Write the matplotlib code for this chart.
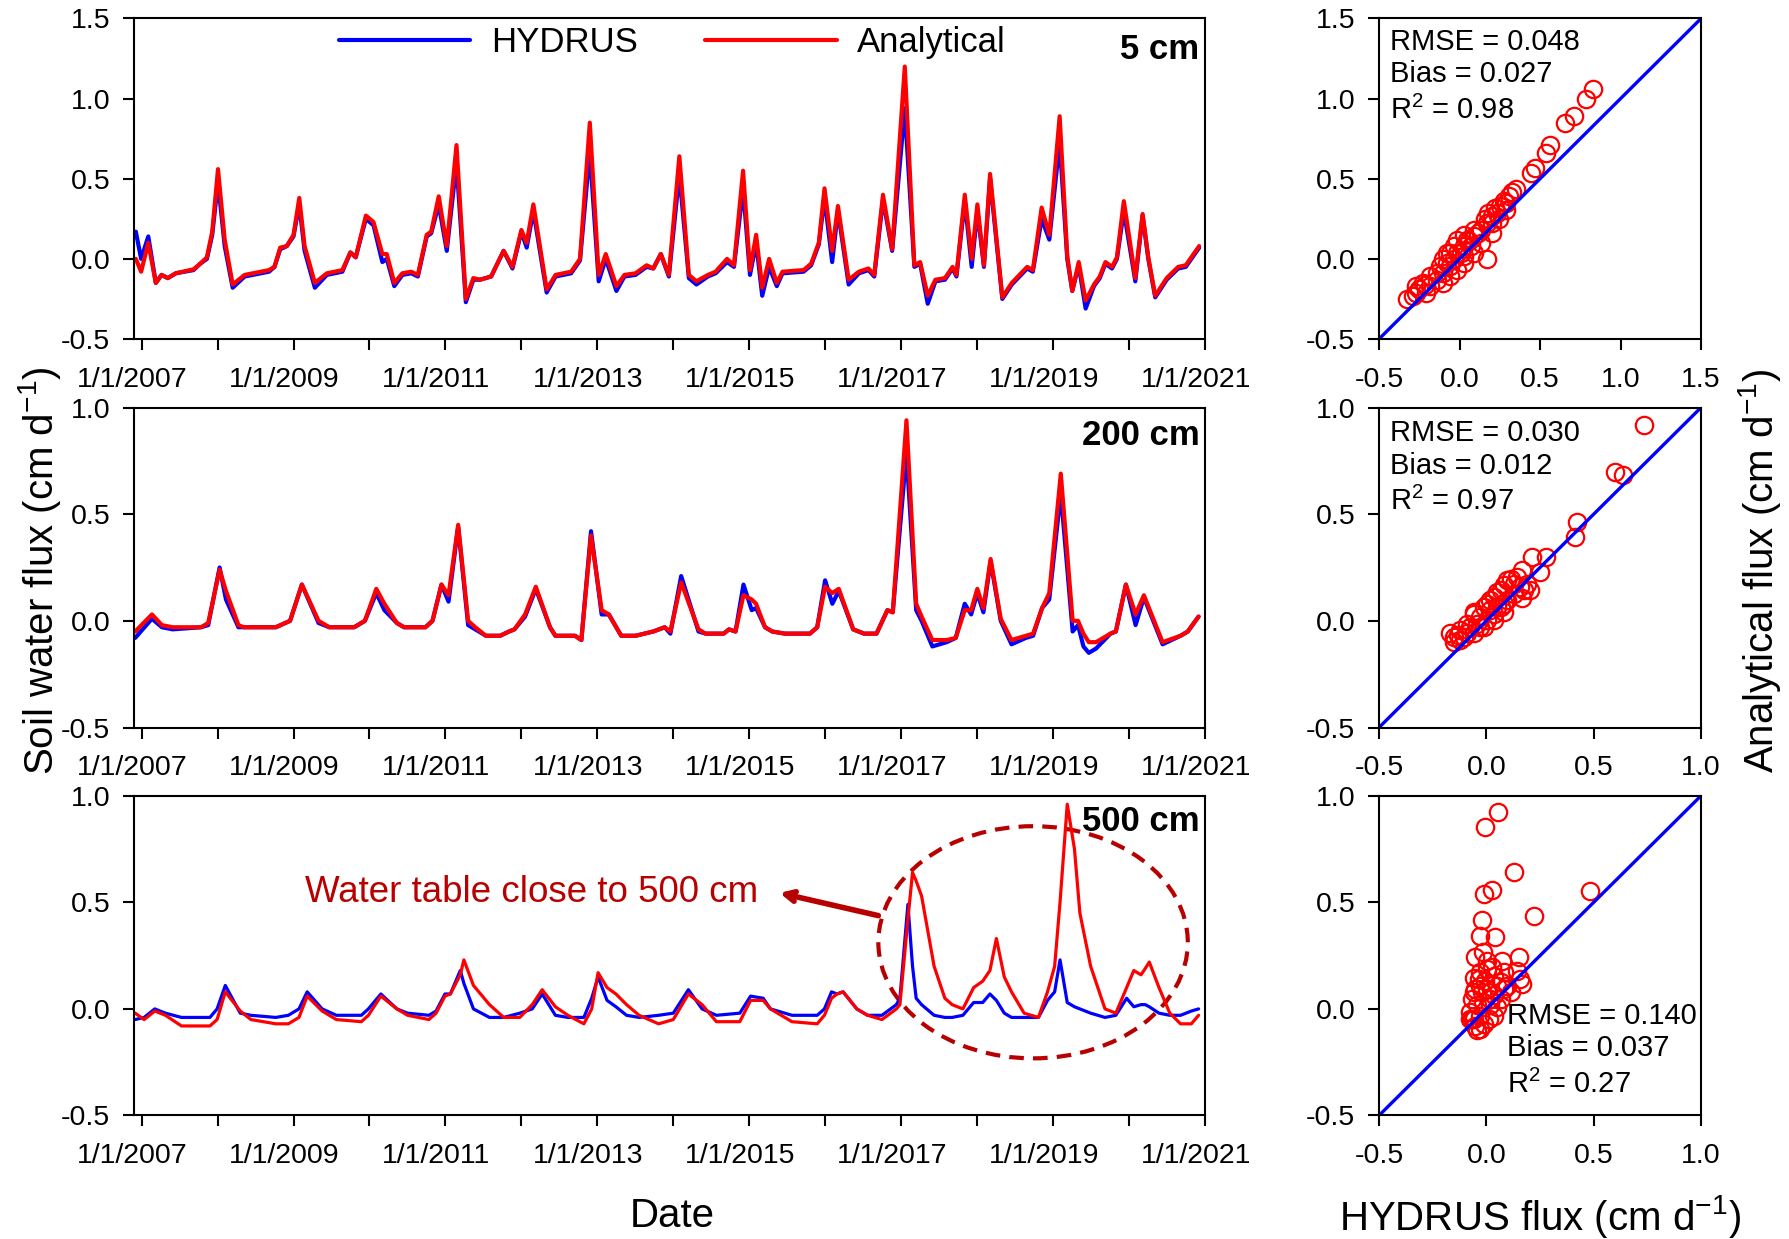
import matplotlib
matplotlib.use("Agg")
import matplotlib.pyplot as plt
import matplotlib.transforms as mtransforms
from matplotlib.patches import Ellipse
import numpy as np

plt.rcParams["font.family"] = ["Liberation Sans", "DejaVu Sans"]
plt.rcParams["mathtext.fontset"] = "custom"
plt.rcParams["mathtext.rm"] = "Liberation Sans"
plt.rcParams["mathtext.it"] = "Liberation Sans:italic"
plt.rcParams["mathtext.default"] = "regular"
plt.rcParams["axes.unicode_minus"] = False

# ── 5 cm: time (decimal year), HYDRUS, Analytical ────────────────────────
t5 = [2006.924, 2006.994, 2007.088, 2007.187, 2007.263, 2007.345, 2007.450, 2007.684,
      2007.772, 2007.860, 2007.930, 2008.006, 2008.094, 2008.199, 2008.357, 2008.678,
      2008.749, 2008.825, 2008.912, 2009.000, 2009.076, 2009.146, 2009.281, 2009.439,
      2009.643, 2009.749, 2009.819, 2009.953, 2010.053, 2010.170, 2010.228, 2010.327,
      2010.433, 2010.550, 2010.637, 2010.754, 2010.813, 2010.912, 2011.018, 2011.146,
      2011.269, 2011.368, 2011.456, 2011.602, 2011.766, 2011.883, 2012.000, 2012.070,
      2012.158, 2012.333, 2012.450, 2012.655, 2012.772, 2012.901, 2013.018, 2013.111,
      2013.251, 2013.357, 2013.503, 2013.649, 2013.737, 2013.836, 2013.942, 2014.080,
      2014.205, 2014.305, 2014.456, 2014.557, 2014.708, 2014.799, 2014.919, 2015.010,
      2015.091, 2015.171, 2015.262, 2015.363, 2015.438, 2015.715, 2015.815, 2015.916,
      2015.991, 2016.092, 2016.168, 2016.309, 2016.444, 2016.570, 2016.646, 2016.761,
      2016.882, 2017.048, 2017.174, 2017.250, 2017.350, 2017.451, 2017.577, 2017.677,
      2017.728, 2017.838, 2017.929, 2018.004, 2018.090, 2018.171, 2018.332, 2018.457,
      2018.659, 2018.734, 2018.850, 2018.951, 2019.087, 2019.187, 2019.253, 2019.338,
      2019.429, 2019.539, 2019.615, 2019.690, 2019.776, 2019.841, 2019.932, 2020.083,
      2020.179, 2020.254, 2020.345, 2020.496, 2020.647, 2020.747, 2020.924]
hyd5 = [0.17, 0.00, 0.14, -0.15, -0.10, -0.12, -0.09, -0.07,
        -0.03, 0.00, 0.15, 0.48, 0.08, -0.18, -0.11, -0.08,
        -0.05, 0.06, 0.08, 0.14, 0.34, 0.05, -0.18, -0.10,
        -0.08, 0.04, 0.01, 0.25, 0.21, -0.02, 0.00, -0.17,
        -0.10, -0.09, -0.11, 0.14, 0.16, 0.34, 0.05, 0.60,
        -0.27, -0.13, -0.13, -0.11, 0.05, -0.06, 0.17, 0.07,
        0.30, -0.21, -0.11, -0.09, -0.01, 0.67, -0.14, 0.00,
        -0.20, -0.11, -0.10, -0.05, -0.06, 0.03, -0.11, 0.53,
        -0.12, -0.16, -0.11, -0.09, -0.02, -0.05, 0.44, -0.10,
        0.10, -0.23, -0.05, -0.17, -0.09, -0.08, -0.04, 0.09,
        0.38, -0.02, 0.30, -0.16, -0.09, -0.07, -0.11, 0.37,
        0.05, 0.94, -0.05, -0.03, -0.28, -0.14, -0.13, -0.06,
        -0.11, 0.36, -0.05, 0.30, -0.05, 0.50, -0.25, -0.16,
        -0.06, -0.08, 0.25, 0.12, 0.73, 0.00, -0.20, -0.04,
        -0.31, -0.17, -0.12, -0.03, -0.06, 0.00, 0.30, -0.14,
        0.27, 0.00, -0.24, -0.13, -0.06, -0.05, 0.07]
ana5 = [0.00, -0.08, 0.10, -0.15, -0.10, -0.12, -0.09, -0.065,
        -0.03, 0.01, 0.17, 0.56, 0.12, -0.16, -0.10, -0.07,
        -0.05, 0.07, 0.08, 0.15, 0.38, 0.08, -0.15, -0.09,
        -0.07, 0.04, 0.01, 0.27, 0.23, 0.03, 0.03, -0.15,
        -0.09, -0.08, -0.10, 0.15, 0.17, 0.39, 0.08, 0.71,
        -0.25, -0.12, -0.13, -0.11, 0.05, -0.05, 0.18, 0.10,
        0.34, -0.19, -0.10, -0.08, 0.00, 0.85, -0.10, 0.03,
        -0.17, -0.10, -0.09, -0.04, -0.06, 0.03, -0.10, 0.64,
        -0.10, -0.14, -0.10, -0.08, 0.00, -0.04, 0.55, -0.07,
        0.15, -0.18, 0.00, -0.15, -0.08, -0.07, -0.03, 0.10,
        0.44, 0.05, 0.33, -0.13, -0.08, -0.06, -0.10, 0.40,
        0.06, 1.20, -0.04, -0.02, -0.23, -0.13, -0.12, -0.05,
        -0.10, 0.40, 0.00, 0.34, -0.04, 0.53, -0.24, -0.15,
        -0.05, -0.07, 0.32, 0.15, 0.89, 0.02, -0.20, -0.02,
        -0.26, -0.16, -0.11, -0.02, -0.05, 0.01, 0.36, -0.12,
        0.28, 0.01, -0.23, -0.12, -0.05, -0.04, 0.08]

# ── 200 cm ───────────────────────────────────────────────────────────────
t200 = [2006.916, 2007.136, 2007.267, 2007.408, 2007.783, 2007.877, 2008.027, 2008.111,
        2008.275, 2008.346, 2008.767, 2008.955, 2009.110, 2009.330, 2009.471, 2009.799,
        2009.940, 2010.090, 2010.197, 2010.361, 2010.455, 2010.737, 2010.830, 2010.948,
        2011.041, 2011.168, 2011.299, 2011.393, 2011.533, 2011.721, 2011.838, 2011.909,
        2012.049, 2012.190, 2012.377, 2012.448, 2012.706, 2012.790, 2012.917, 2013.057,
        2013.151, 2013.315, 2013.503, 2013.737, 2013.887, 2013.962, 2014.104, 2014.332,
        2014.426, 2014.663, 2014.734, 2014.820, 2014.924, 2015.033, 2015.090, 2015.208,
        2015.303, 2015.469, 2015.800, 2015.895, 2015.999, 2016.094, 2016.179, 2016.369,
        2016.511, 2016.676, 2016.819, 2016.890, 2017.070, 2017.198, 2017.269, 2017.411,
        2017.600, 2017.719, 2017.837, 2017.922, 2018.003, 2018.083, 2018.178, 2018.311,
        2018.453, 2018.642, 2018.737, 2018.856, 2018.950, 2019.102, 2019.258, 2019.329,
        2019.400, 2019.471, 2019.566, 2019.756, 2019.827, 2019.959, 2020.087, 2020.196,
        2020.442, 2020.679, 2020.774, 2020.916]
hyd200 = [-0.08, 0.01, -0.03, -0.04, -0.03, -0.02, 0.25, 0.10,
          -0.03, -0.03, -0.03, 0.00, 0.17, -0.01, -0.03, -0.03,
          0.00, 0.13, 0.05, -0.01, -0.03, -0.03, 0.00, 0.17,
          0.09, 0.44, -0.02, -0.04, -0.07, -0.07, -0.05, -0.04,
          0.02, 0.15, -0.03, -0.07, -0.07, -0.09, 0.42, 0.03,
          0.03, -0.07, -0.07, -0.05, -0.03, -0.06, 0.21, -0.05,
          -0.06, -0.06, -0.04, -0.05, 0.17, 0.05, 0.06, -0.03,
          -0.05, -0.06, -0.06, -0.03, 0.19, 0.08, 0.14, -0.04,
          -0.06, -0.06, 0.05, 0.04, 0.79, 0.05, 0.00, -0.12,
          -0.10, -0.08, 0.08, 0.03, 0.13, 0.04, 0.28, 0.00,
          -0.11, -0.08, -0.07, 0.06, 0.10, 0.60, -0.05, -0.02,
          -0.12, -0.15, -0.13, -0.06, -0.05, 0.17, -0.02, 0.11,
          -0.11, -0.07, -0.05, 0.02]
ana200 = [-0.05, 0.03, -0.02, -0.03, -0.03, -0.01, 0.24, 0.14,
          -0.02, -0.03, -0.03, 0.00, 0.17, 0.00, -0.03, -0.03,
          0.00, 0.15, 0.08, -0.01, -0.03, -0.03, 0.00, 0.17,
          0.12, 0.45, 0.00, -0.03, -0.07, -0.07, -0.05, -0.04,
          0.03, 0.16, -0.03, -0.07, -0.07, -0.09, 0.40, 0.05,
          0.03, -0.07, -0.07, -0.05, -0.03, -0.05, 0.18, -0.04,
          -0.06, -0.06, -0.04, -0.05, 0.12, 0.10, 0.08, -0.03,
          -0.05, -0.06, -0.06, -0.03, 0.16, 0.13, 0.15, -0.04,
          -0.06, -0.06, 0.05, 0.04, 0.94, 0.08, 0.02, -0.09,
          -0.09, -0.08, 0.05, 0.05, 0.15, 0.06, 0.29, 0.01,
          -0.09, -0.07, -0.06, 0.06, 0.13, 0.69, 0.00, 0.00,
          -0.06, -0.10, -0.10, -0.06, -0.05, 0.17, 0.03, 0.12,
          -0.10, -0.07, -0.05, 0.02]

# ── 500 cm ───────────────────────────────────────────────────────────────
t500 = [2006.916, 2007.033, 2007.173, 2007.314, 2007.525, 2007.900, 2007.994, 2008.102,
        2008.299, 2008.439, 2008.767, 2008.932, 2009.072, 2009.180, 2009.377, 2009.564,
        2009.893, 2009.986, 2010.150, 2010.361, 2010.502, 2010.783, 2010.877, 2010.994,
        2011.065, 2011.196, 2011.243, 2011.369, 2011.580, 2011.768, 2011.979, 2012.143,
        2012.274, 2012.448, 2012.612, 2012.823, 2012.926, 2013.010, 2013.128, 2013.245,
        2013.385, 2013.550, 2013.807, 2014.000, 2014.199, 2014.379, 2014.568, 2014.876,
        2015.018, 2015.184, 2015.279, 2015.563, 2015.895, 2015.990, 2016.084, 2016.155,
        2016.236, 2016.416, 2016.558, 2016.748, 2016.937, 2016.984, 2017.089, 2017.150,
        2017.198, 2017.269, 2017.434, 2017.576, 2017.671, 2017.813, 2017.955, 2018.074,
        2018.169, 2018.254, 2018.358, 2018.453, 2018.619, 2018.808, 2018.927, 2019.021,
        2019.092, 2019.187, 2019.282, 2019.353, 2019.495, 2019.684, 2019.827, 2019.969,
        2020.063, 2020.158, 2020.215, 2020.267, 2020.395, 2020.537, 2020.679, 2020.821,
        2020.916]
hyd500 = [-0.05, -0.04, 0.00, -0.02, -0.04, -0.04, 0.00, 0.11,
          -0.02, -0.03, -0.04, -0.03, 0.00, 0.08, 0.00, -0.03,
          -0.03, 0.00, 0.07, 0.00, -0.02, -0.03, -0.01, 0.07,
          0.07, 0.18, 0.12, 0.00, -0.04, -0.04, -0.02, 0.00,
          0.07, -0.03, -0.04, -0.04, 0.05, 0.15, 0.04, 0.01,
          -0.03, -0.04, -0.03, -0.02, 0.09, 0.00, -0.03, -0.02,
          0.06, 0.05, 0.00, -0.03, -0.03, 0.00, 0.08, 0.07,
          0.08, 0.00, -0.03, -0.03, 0.02, 0.05, 0.49, 0.20,
          0.05, 0.02, -0.03, -0.04, -0.04, -0.03, 0.03, 0.03,
          0.07, 0.04, -0.02, -0.04, -0.04, -0.04, 0.04, 0.08,
          0.23, 0.03, 0.01, 0.00, -0.02, -0.04, -0.03, 0.05,
          0.01, 0.02, 0.02, 0.01, -0.02, -0.03, -0.03, -0.01,
          0.00]
ana500 = [-0.02, -0.05, -0.01, -0.03, -0.08, -0.08, -0.05, 0.08,
          -0.01, -0.05, -0.07, -0.07, -0.04, 0.06, -0.01, -0.05,
          -0.06, -0.03, 0.06, 0.00, -0.03, -0.05, -0.02, 0.06,
          0.07, 0.16, 0.23, 0.11, 0.02, -0.04, -0.04, 0.02,
          0.09, 0.01, -0.03, -0.07, 0.00, 0.17, 0.10, 0.07,
          0.02, -0.03, -0.07, -0.05, 0.07, 0.02, -0.06, -0.06,
          0.04, 0.04, 0.00, -0.06, -0.07, -0.03, 0.05, 0.07,
          0.08, 0.00, -0.03, -0.05, 0.00, 0.02, 0.42, 0.64,
          0.60, 0.53, 0.20, 0.05, 0.02, 0.00, 0.10, 0.13,
          0.18, 0.33, 0.15, 0.08, -0.02, -0.04, 0.08, 0.20,
          0.50, 0.96, 0.75, 0.45, 0.20, 0.00, -0.02, 0.10,
          0.18, 0.16, 0.19, 0.22, 0.10, -0.02, -0.07, -0.07,
          -0.03]

# ── scatter: HYDRUS (x) vs Analytical (y) ────────────────────────────────
sc5_x = [0.828, 0.783, 0.714, 0.654, 0.564, 0.539, 0.468, 0.446, 0.350, 0.329, 0.307,
         0.275, 0.254, 0.200, 0.168, 0.136, 0.092, 0.060, 0.028, -0.015, -0.058, 0.168,
         0.136, -0.015, -0.100, -0.142, -0.185, -0.217, -0.249, -0.270, -0.292, -0.324,
         -0.207, -0.142, -0.078, -0.036, 0.028, 0.071, 0.114, 0.200, 0.232, 0.286,
         -0.100, -0.121, -0.058, 0.007, 0.049, 0.092, 0.157, -0.185, -0.228, -0.270,
         -0.100, -0.058, 0.028, 0.092, -0.036, -0.078, -0.015, 0.028, 0.200, 0.243,
         0.179, 0.222, 0.286]
sc5_y = [1.063, 1.000, 0.892, 0.846, 0.708, 0.658, 0.569, 0.533, 0.433, 0.417, 0.392,
         0.360, 0.329, 0.267, 0.225, 0.183, 0.142, 0.110, 0.079, 0.038, 0.038, 0.000,
         0.100, -0.067, -0.088, -0.129, -0.171, -0.160, -0.190, -0.210, -0.233, -0.250,
         -0.210, -0.088, -0.025, 0.000, 0.017, 0.079, 0.163, 0.225, 0.288, 0.350,
         0.000, -0.046, -0.046, 0.038, 0.120, 0.183, 0.246, -0.108, -0.150, -0.171,
         -0.150, -0.108, -0.025, 0.038, 0.079, 0.038, 0.120, 0.152, 0.163, 0.246,
         0.288, 0.319, 0.308]

sc200_x = [0.734, 0.600, 0.636, 0.422, 0.414, 0.277, 0.211, 0.248, 0.203, 0.167, 0.167,
           0.113, 0.081, 0.050, 0.019, -0.013, -0.059, -0.090, -0.122, -0.153, -0.153,
           -0.106, -0.059, -0.028, 0.003, 0.034, 0.066, 0.097, 0.128, 0.159, 0.190,
           0.066, 0.034, 0.003, -0.059, -0.028, -0.122, -0.169, -0.075, 0.019, 0.081,
           0.097, 0.144, 0.050, -0.044, -0.090, -0.130, 0.128, 0.175, -0.013, 0.034, 0.081]
sc200_y = [0.917, 0.698, 0.683, 0.464, 0.394, 0.300, 0.300, 0.227, 0.144, 0.109, 0.238,
           0.198, 0.167, 0.136, 0.097, 0.066, 0.034, -0.013, -0.044, -0.075, -0.098,
           -0.075, -0.059, -0.028, 0.003, 0.034, 0.066, 0.097, 0.128, 0.159, 0.175,
           0.144, 0.113, 0.081, 0.042, 0.019, -0.090, -0.056, -0.028, 0.050, 0.081,
           0.190, 0.206, 0.066, -0.013, -0.059, -0.067, 0.175, 0.144, -0.028, 0.003, 0.042]

sc500_x = [0.053, -0.008, 0.131, 0.027, -0.013, 0.484, 0.222, -0.020, -0.028, 0.039,
           -0.014, -0.052, 0.003, 0.073, 0.152, 0.144, 0.159, 0.167, -0.059, -0.028,
           0.003, 0.034, 0.066, 0.097, 0.113, -0.059, -0.028, 0.003, 0.034, 0.066,
           -0.067, -0.044, -0.014, 0.019, 0.050, -0.075, -0.059, -0.052, -0.044, -0.028,
           -0.013, 0.011, 0.034, -0.028, -0.075, 0.019, -0.036, -0.005, 0.081, 0.050,
           0.081, 0.027, -0.020, -0.052, -0.067]
sc500_y = [0.925, 0.852, 0.644, 0.559, 0.539, 0.552, 0.434, 0.417, 0.344, 0.336,
           0.266, 0.242, 0.227, 0.227, 0.242, 0.180, 0.140, 0.117, 0.144, 0.172,
           0.188, 0.156, 0.125, 0.109, 0.078, 0.078, 0.109, 0.094, 0.063, 0.047,
           0.047, 0.016, 0.031, 0.016, 0.008, -0.016, -0.047, -0.078, -0.100, -0.094,
           -0.070, -0.047, -0.031, -0.031, -0.047, 0.047, 0.140, 0.133, 0.094, 0.109,
           0.172, 0.195, 0.078, 0.094, -0.047]

stats5 = ["RMSE = 0.048", "Bias = 0.027", "R$^2$ = 0.98"]
stats200 = ["RMSE = 0.030", "Bias = 0.012", "R$^2$ = 0.97"]
stats500 = ["RMSE = 0.140", "Bias = 0.037", "R$^2$ = 0.27"]

years = list(range(2007, 2022))
year_labels = [f"1/1/{y}" if (y - 2007) % 2 == 0 else "" for y in years]

BLUE = "#0000FF"
RED = "#FF0000"
DARKRED = "#B80000"

fig = plt.figure(figsize=(17.9, 12.39), dpi=100)

rows = [(0.72639, 0.25868), (0.41283, 0.25827), (0.09968, 0.2581)]
ts_left, ts_w = 0.07486, 0.5983
sc_left, sc_w = 0.7704, 0.1799


def style_axes(ax):
    for sp in ax.spines.values():
        sp.set_linewidth(1.5)
    ax.tick_params(direction="out", length=8, width=1.5, labelsize=20.5,
                   top=False, right=False)
    ax.tick_params(axis="y", pad=9)
    ax.tick_params(axis="x", pad=12)


series = [(t5, hyd5, ana5, "5 cm", (-0.5, 1.5), 3.0, 0.955),
          (t200, hyd200, ana200, "200 cm", (-0.5, 1.0), 3.0, 0.965),
          (t500, hyd500, ana500, "500 cm", (-0.5, 1.0), 2.3, 0.97)]
scatters = [(sc5_x, sc5_y, stats5, (-0.5, 1.5)),
            (sc200_x, sc200_y, stats200, (-0.5, 1.0)),
            (sc500_x, sc500_y, stats500, (-0.5, 1.0))]

ts_axes = []
for i, ((b, h), (t, hy, an, depth, ylim, lw, ytxt)) in enumerate(zip(rows, series)):
    ax = fig.add_axes([ts_left, b, ts_w, h])
    style_axes(ax)
    l1, = ax.plot(t, hy, color=BLUE, lw=lw, label="HYDRUS",
                  solid_joinstyle="round", solid_capstyle="round")
    l2, = ax.plot(t, an, color=RED, lw=lw, label="Analytical",
                  solid_joinstyle="round", solid_capstyle="round")
    ax.set_xlim(2006.90, 2021.0)
    ax.set_ylim(*ylim)
    ax.set_yticks(np.arange(ylim[0], ylim[1] + 0.01, 0.5))
    ax.set_yticklabels([f"{v:.1f}" for v in np.arange(ylim[0], ylim[1] + 0.01, 0.5)])
    ax.set_xticks(years)
    ax.set_xticklabels(year_labels)
    shift = mtransforms.ScaledTranslation(-9 / 100, 0, fig.dpi_scale_trans)
    for lab in ax.get_xticklabels():
        lab.set_transform(lab.get_transform() + shift)
    ax.text(0.995, ytxt, depth, transform=ax.transAxes, ha="right", va="top",
            fontsize=25, fontweight="bold")
    if i == 0:
        ax.legend(handles=[l1, l2], loc="center left", bbox_to_anchor=(0.191, 0.926),
                  ncol=2, frameon=False, fontsize=25, handlelength=3.8,
                  handletextpad=0.58, columnspacing=1.94, borderpad=0,
                  borderaxespad=0)
    ts_axes.append(ax)

# annotation on the 500 cm panel
ax = ts_axes[2]
ax.add_patch(Ellipse((2018.737, 0.3125), 4.074, 1.089, fill=False,
                     edgecolor=DARKRED, lw=3, linestyle=(0, (3.5, 2.2))))
ax.annotate("", xy=(2015.40, 0.544), xytext=(2016.70, 0.4375),
            arrowprops=dict(arrowstyle="->,head_length=0.7,head_width=0.35",
                            color=DARKRED, lw=4, shrinkA=0, shrinkB=0))
ax.text(2015.12, 0.545, "Water table close to 500 cm", color=DARKRED,
        fontsize=26.5, ha="right", va="center")

for (b, h), (sx, sy, stats, lim) in zip(rows, scatters):
    ax = fig.add_axes([sc_left, b, sc_w, h])
    style_axes(ax)
    ax.plot(sx, sy, "o", mfc="none", mec=RED, ms=12.5, mew=1.6)
    ax.plot(list(lim), list(lim), color=BLUE, lw=2.4)
    ax.set_xlim(*lim)
    ax.set_ylim(*lim)
    ticks = np.arange(lim[0], lim[1] + 0.01, 0.5)
    ax.set_xticks(ticks)
    ax.set_yticks(ticks)
    ax.set_xticklabels([f"{v:.1f}" for v in ticks])
    ax.set_yticklabels([f"{v:.1f}" for v in ticks])
    if lim[1] > 1.2:
        pos = [(0.033, 0.927), (0.033, 0.826), (0.033, 0.714)]
    elif stats is stats200:
        pos = [(0.033, 0.919), (0.033, 0.816), (0.033, 0.706)]
    else:
        pos = [(0.398, 0.31), (0.398, 0.21), (0.398, 0.096)]
    for s, (px, py) in zip(stats, pos):
        ax.text(px, py, s, transform=ax.transAxes, ha="left", va="center", fontsize=21)

fig.text(40 / 1790, 1 - 571 / 1239, "Soil water flux (cm d$^{-1}$)", rotation=90,
         ha="center", va="center", fontsize=29)
fig.text(1760 / 1790, 1 - 571 / 1239, "Analytical flux (cm d$^{-1}$)", rotation=90,
         ha="center", va="center", fontsize=29)
fig.text(672 / 1790, 1 - 1216 / 1239, "Date", ha="center", va="center", fontsize=29)
fig.text(1540 / 1790, 1 - 1216 / 1239, "HYDRUS flux (cm d$^{-1}$)", ha="center",
         va="center", fontsize=29)

fig.savefig("out.png", dpi=100)
